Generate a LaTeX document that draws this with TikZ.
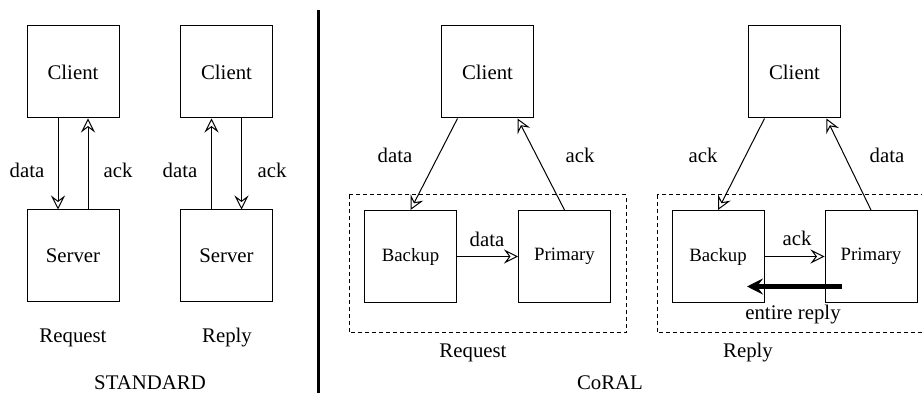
\documentclass[tikz,border=0pt]{standalone}
\usepackage{fontspec}
\setmainfont{Liberation Serif}
\newfontfamily\figfont{Liberation Serif}
\usetikzlibrary{arrows.meta}

\begin{document}
\begin{tikzpicture}[x=0.5pt, y=-0.5pt,
  font=\figfont\fontsize{10.4}{12}\selectfont,
  box/.style={draw, line width=0.5pt, minimum width=46pt, minimum height=46pt, inner sep=0pt},
  small/.style={font=\figfont\fontsize{9.4}{11}\selectfont},
  msg/.style={line width=0.5pt, -{Stealth[open, length=7pt, width=7pt, inset=2.6pt]}},
  bulk/.style={line width=2.5pt, -{Stealth[length=8pt, width=8pt, inset=3pt]}},
  group/.style={draw, line width=0.5pt, dash pattern=on 2pt off 1.5pt}]
\useasboundingbox (0,0) rectangle (922,395);

%% standard request / reply
\node[box] (c1) at (73, 72) {Client};
\node[box] (s1) at (73, 256) {Server};
\node[box] (c2) at (226.5, 72) {Client};
\node[box] (s2) at (226.5, 256) {Server};
\draw[msg] ([xshift=-7.5pt]c1.south) -- ([xshift=-7.5pt]s1.north);
\draw[msg] ([xshift=7.5pt]s1.north) -- ([xshift=7.5pt]c1.south);
\draw[msg] ([xshift=-7.5pt]s2.north) -- ([xshift=-7.5pt]c2.south);
\draw[msg] ([xshift=7.5pt]c2.south) -- ([xshift=7.5pt]s2.north);
\node (d1) at (27, 170) {data};
\node (a1) at (118, 170) {ack};
\node (d2) at (180, 170) {data};
\node (a2) at (272, 170) {ack};
\node (r1) at (73, 338) {Request};
\node (r2) at (227, 338) {Reply};
\node (std) at (150, 383) {STANDARD};

%% divider
\draw[line width=1.5pt] (318, 10) -- (318, 393);

%% CoRAL request
\draw[group] (349, 195) rectangle (626, 333);
\node[box] (c3) at (487.5, 72) {Client};
\node[box, small] (b3) at (410.5, 256.5) {Backup};
\node[box, small] (p3) at (564.5, 256.5) {Primary};
\draw[msg] ([xshift=-15pt]c3.south) -- (b3.north);
\draw[msg] (p3.north) -- ([xshift=15pt]c3.south);
\draw[msg] (b3.east) -- (p3.west);
\node (d3) at (395, 155) {data};
\node (a3) at (580, 155) {ack};
\node (d4) at (487, 239) {data};
\node (r3) at (473, 353) {Request};

%% CoRAL reply
\draw[group] (657, 195) rectangle (940, 333);
\node[box] (c4) at (794.5, 72) {Client};
\node[box, small] (b4) at (718, 256.5) {Backup};
\node[box, small] (p4) at (871, 256.5) {Primary};
\draw[msg] ([xshift=-15pt]c4.south) -- (b4.north);
\draw[msg] (p4.north) -- ([xshift=16pt]c4.south);
\draw[msg] (b4.east) -- (p4.west);
\draw[bulk] ([xshift=-14.5pt, yshift=-15pt]p4.center) -- ([xshift=14.5pt, yshift=-15pt]b4.center);
\node (a5) at (703, 155) {ack};
\node (d5) at (887, 155) {data};
\node (a6) at (797, 238) {ack};
\node (e4) at (793, 315) {entire reply};
\node (r4) at (748, 353) {Reply};
\node (cor) at (610, 383) {CoRAL};
\end{tikzpicture}
\end{document}
